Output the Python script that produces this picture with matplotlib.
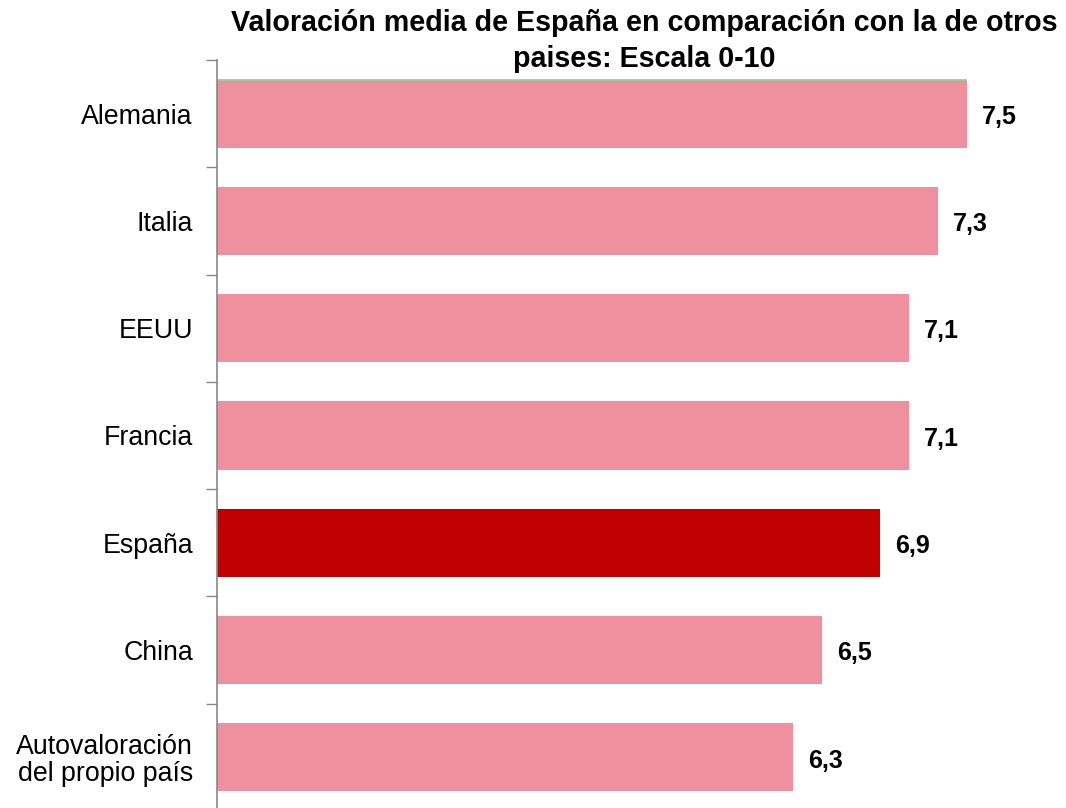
import matplotlib
matplotlib.use("Agg")
import matplotlib.pyplot as plt
import numpy as np

categories = ["Alemania", "Italia", "EEUU", "Francia", "España", "China",
              "Autovaloración\ndel propio país"]
values = [7.5, 7.3, 7.1, 7.1, 6.9, 6.5, 6.3]
value_labels = ["7,5", "7,3", "7,1", "7,1", "6,9", "6,5", "6,3"]
highlight = "España"
title = "Valoración media de España en comparación con la de otros\npaises: Escala 0-10"

plt.rcParams['font.family'] = ['Liberation Sans', 'DejaVu Sans']

W, H = 1066, 808
fig = plt.figure(figsize=(W / 100, H / 100), dpi=100)
left_px, right_px, top_px, bottom_px = 216.5, 1060, 60, 811
ax = fig.add_axes([left_px / W, 1 - bottom_px / H,
                   (right_px - left_px) / W, (bottom_px - top_px) / H])

xmin = 2.324
xmax = xmin + (right_px - left_px) / 145.0
pink = "#EE909D"
red = "#C00000"
colors = [red if c == highlight else pink for c in categories]
y = np.arange(len(categories))
bar_h = 0.634
ax.barh(y, np.array(values) - xmin, left=xmin, height=bar_h, color=colors, edgecolor="none")
# thin green line on top of first bar
ax.hlines(y[0] - bar_h / 2, xmin, values[0], color="#7FD8A0", linewidth=1.2)

for yi, v, lab in zip(y, values, value_labels):
    ax.text(v + 0.105, yi + 0.03, lab, va="center", ha="left", fontsize=18, fontweight="bold")

ax.set_xlim(xmin, xmax)
ax.set_ylim(len(categories) - 0.5, -0.5)
ax.set_yticks(y)
ax.set_yticklabels(categories, fontsize=19.3, linespacing=1.05)
ax.tick_params(axis="y", which="major", length=0, pad=17)
ax.set_yticks(np.arange(-0.5, len(categories) + 0.5, 1), minor=True)
ax.tick_params(axis="y", which="minor", length=8, color="#888888", width=1)
ax.set_xticks([])
for s in ["top", "right", "bottom"]:
    ax.spines[s].set_visible(False)
ax.spines["left"].set_color("#888888")
ax.spines["left"].set_linewidth(1.2)

fig.text(644 / W, 1 - 41 / H, title, ha="center", va="center", fontsize=20.6,
         fontweight="bold", linespacing=1.36)

fig.savefig("out.png", dpi=100)
